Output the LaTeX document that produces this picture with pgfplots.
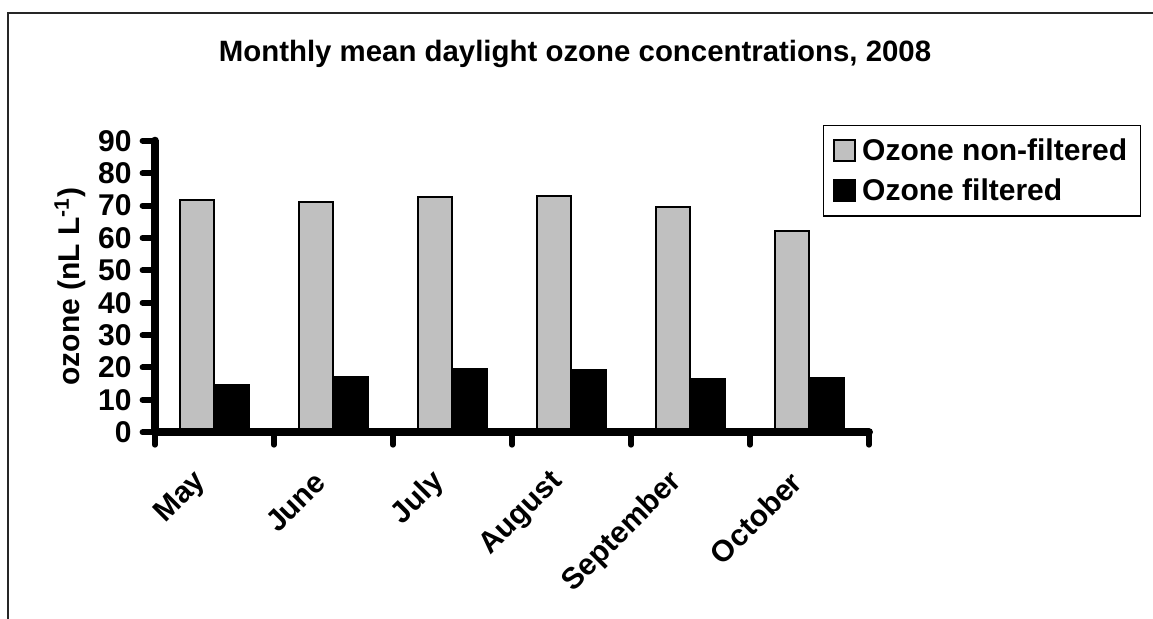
\documentclass[border=0pt]{standalone}
\usepackage{fontspec}
\setmainfont{Liberation Sans}
\usepackage{pgfplots}
\pgfplotsset{compat=1.18}
\definecolor{silver}{RGB}{192,192,192}
\newcommand{\cf}{\fontsize{15pt}{17pt}\selectfont\bfseries}

\begin{document}
\begin{tikzpicture}
\useasboundingbox (0,0) rectangle (576.5pt,309.5pt);
\begin{scope}
\clip (0,0) rectangle (576.5pt,309.5pt);
\draw[line width=0.75pt, black!85] (4pt,-10pt) -- (4pt,303pt) -- (600pt,303pt);
\end{scope}
\node[font=\fontsize{14.7pt}{17pt}\selectfont\bfseries, anchor=base] at (287.5pt,278.5pt)
    {Monthly mean daylight ozone concentrations, 2008};
\begin{axis}[
    at={(77.5pt,93.35pt)}, anchor=south west,
    scale only axis, width=357pt, height=145.8pt,
    axis on top,
    ybar=0pt, bar width=17.25pt,
    xmin=-0.5, xmax=5.5, ymin=0, ymax=90,
    axis x line*=bottom, axis y line*=left,
    axis line style={line width=4pt, line cap=round, -},
    ytick={0,10,...,90},
    xtick={-0.5,0.5,...,5.5}, xticklabels={},
    tick align=outside, major tick length=6.2pt,
    every tick/.append style={line width=3pt, line cap=round, black},
    major tick style={line width=3pt, line cap=round, black},
    ticklabel style={font=\cf},
    yticklabel style={xshift=-2pt},
    /pgf/number format/assume math mode=true,
    extra x ticks={0,1,2,3,4,5},
    extra x tick labels={May,June,July,August,September,October},
    extra x tick style={major tick length=0pt,
        tick style={draw=none}, major tick style={draw=none},
        tick label style={xshift=-4pt, yshift=-20pt, rotate=45, anchor=east}},
    ylabel={ozone (nL L\textsuperscript{-1})},
    ylabel style={font=\cf, at={(axis description cs:-0.119,0.5)}, anchor=center},
    legend style={at={(axis description cs:0.9356,1.0539)}, anchor=north west,
        draw=black, line width=0.6pt, font=\cf, inner xsep=4.8pt, inner ysep=4.5pt,
        row sep=3.5pt},
    legend cell align=left,
    sq/.style={legend image code/.code={\draw[##1] (0pt,-5.25pt) rectangle (10.5pt,5.25pt);
        \path[draw=none, fill=none] (10.5pt,0pt) -- (12pt,0pt);}},
]
\addplot[fill=silver, draw=black, line width=1pt, sq] coordinates {
    (0,71.7) (1,71.0) (2,72.5) (3,72.9) (4,69.4) (5,62.0)
};
\addplot[fill=black, draw=black, line width=1pt, sq] coordinates {
    (0,14.6) (1,17.0) (2,19.4) (3,19.2) (4,16.4) (5,16.8)
};
\legend{Ozone non-filtered, Ozone filtered}
\end{axis}
\end{tikzpicture}
\end{document}
